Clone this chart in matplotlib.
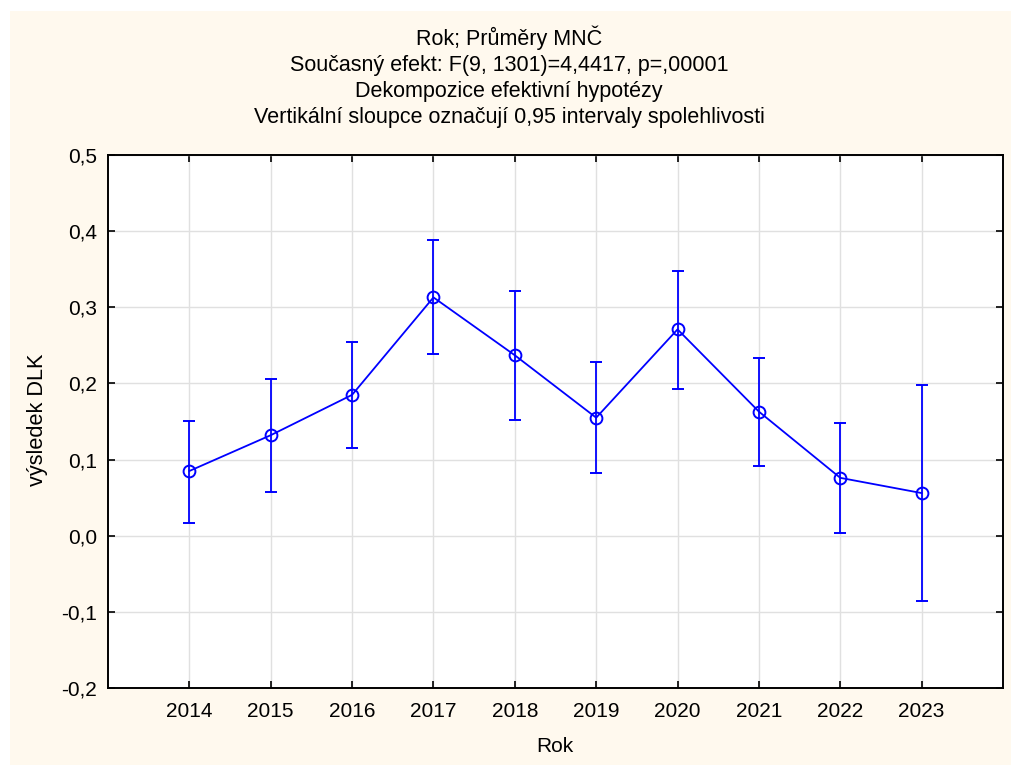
import matplotlib
matplotlib.use("Agg")
import matplotlib.pyplot as plt
from matplotlib.patches import Rectangle

years = [2014, 2015, 2016, 2017, 2018, 2019, 2020, 2021, 2022, 2023]
means = [0.085, 0.132, 0.185, 0.313, 0.237, 0.155, 0.271, 0.163, 0.076, 0.056]
upper = [0.151, 0.206, 0.254, 0.388, 0.322, 0.228, 0.348, 0.233, 0.148, 0.198]
lower = [0.017, 0.057, 0.115, 0.239, 0.152, 0.082, 0.193, 0.092, 0.003, -0.086]
yticks = [-0.2, -0.1, 0.0, 0.1, 0.2, 0.3, 0.4, 0.5]
ytick_labels = ["-0,2", "-0,1", "0,0", "0,1", "0,2", "0,3", "0,4", "0,5"]
title_lines = [
    "Rok; Průměry MNČ",
    "Současný efekt: F(9, 1301)=4,4417, p=,00001",
    "Dekompozice efektivní hypotézy",
    "Vertikální sloupce označují 0,95 intervaly spolehlivosti",
]

plt.rcParams['font.family'] = ['Liberation Sans', 'DejaVu Sans']

W, H = 1012, 765
fig = plt.figure(figsize=(W / 100, H / 100), dpi=100)
fig.patch.set_facecolor('white')
fig.patches.append(Rectangle((10 / W, 0.0), (W - 10) / W, (H - 11) / H,
                             transform=fig.transFigure, facecolor='#fff9ee',
                             edgecolor='none', zorder=-10))

ax = fig.add_axes([108 / W, (H - 688) / H, 895 / W, 533 / H])
ax.set_facecolor('white')

yerr = [[m - l for m, l in zip(means, lower)], [u - m for m, u in zip(means, upper)]]
ax.errorbar(years, means, yerr=yerr, color='#0000ff', lw=1.3, elinewidth=1.3,
            capsize=4.5, capthick=1.3, marker='o', markersize=8.5,
            markerfacecolor='none', markeredgecolor='#0000ff', markeredgewidth=1.4,
            zorder=3)

ax.set_xlim(2013, 2024)
ax.set_ylim(-0.2, 0.5)
ax.set_xticks(years)
ax.set_xticklabels([str(y) for y in years], fontsize=15)
ax.set_yticks(yticks)
ax.set_yticklabels(ytick_labels, fontsize=15)
ax.grid(True, color='#e0e0e0', lw=1)
ax.set_axisbelow(True)
ax.tick_params(direction='in', length=5, width=1.2, top=True, right=True,
               labeltop=False, labelright=False)
ax.tick_params(axis='x', pad=10)
ax.tick_params(axis='y', pad=8)
for s in ax.spines.values():
    s.set_linewidth(1.4)
    s.set_color('black')

fig.text(555 / W, 1 - 746 / H, "Rok", ha='center', va='center', fontsize=15)
fig.text(38 / W, 1 - 420 / H, "výsledek DLK", ha='center', va='center',
         rotation=90, fontsize=15.7)

baselines = [45, 71, 97, 123]
for t, y in zip(title_lines, baselines):
    fig.text(509 / W, 1 - y / H, t, ha='center', va='baseline', fontsize=15.5)

fig.savefig("out.png", dpi=100, facecolor=fig.get_facecolor())
